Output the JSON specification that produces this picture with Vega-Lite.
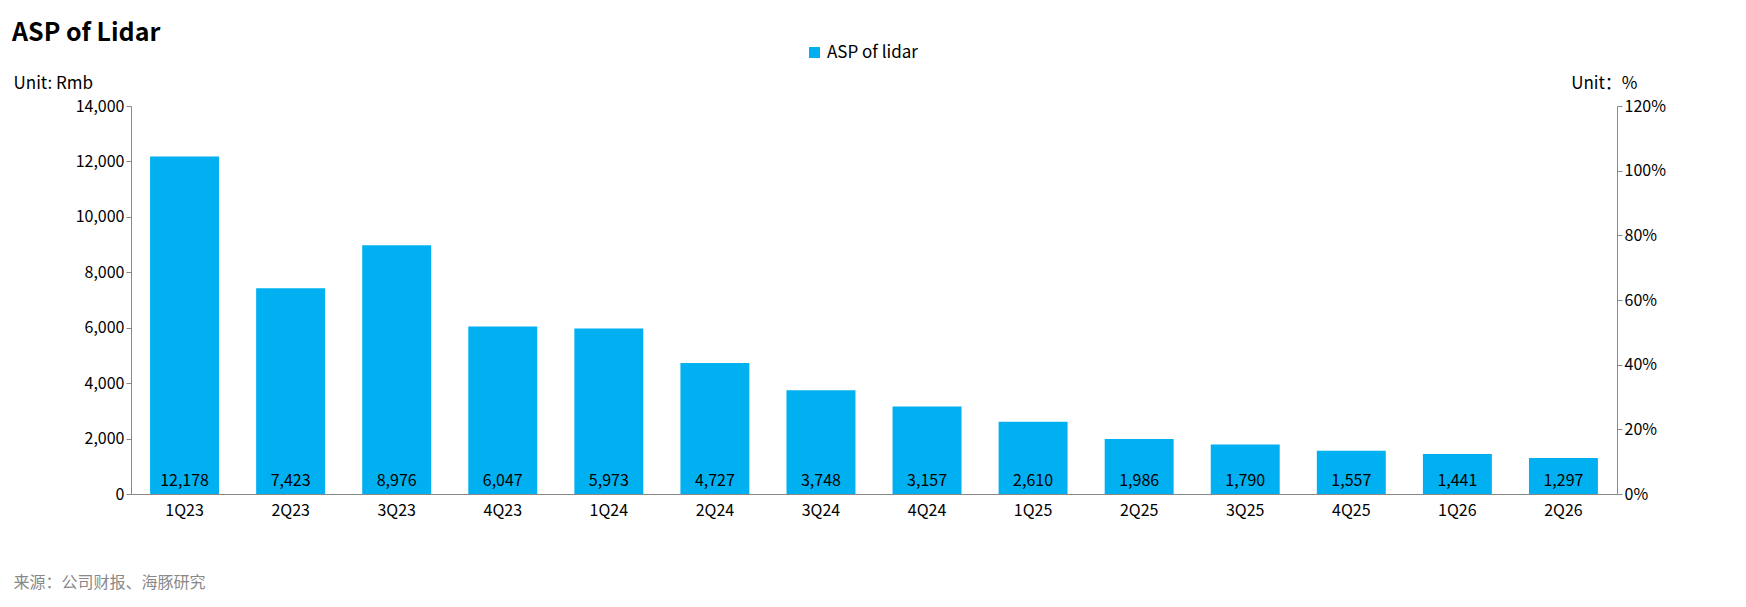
{
  "$schema": "https://vega.github.io/schema/vega-lite/v6.json",
  "autosize": "none",
  "width": 1486,
  "height": 388,
  "padding": {"left": 131, "top": 106, "right": 129, "bottom": 113},
  "background": "white",
  "config": {
    "font": "Noto Sans CJK SC",
    "view": {"stroke": null},
    "axis": {"labelFontSize": 16, "labelColor": "#000", "grid": false, "domainColor": "#888", "tickColor": "#888"}
  },
  "title": {
    "text": "ASP of Lidar",
    "anchor": "start",
    "frame": "group",
    "fontSize": 25,
    "fontWeight": "bold",
    "dx": -119,
    "dy": 6,
    "color": "#000"
  },
  "data": {
    "values": [
      {"q": "1Q23", "asp": 12178},
      {"q": "2Q23", "asp": 7423},
      {"q": "3Q23", "asp": 8976},
      {"q": "4Q23", "asp": 6047},
      {"q": "1Q24", "asp": 5973},
      {"q": "2Q24", "asp": 4727},
      {"q": "3Q24", "asp": 3748},
      {"q": "4Q24", "asp": 3157},
      {"q": "1Q25", "asp": 2610},
      {"q": "2Q25", "asp": 1986},
      {"q": "3Q25", "asp": 1790},
      {"q": "4Q25", "asp": 1557},
      {"q": "1Q26", "asp": 1441},
      {"q": "2Q26", "asp": 1297}
    ]
  },
  "encoding": {
    "x": {
      "field": "q", "type": "ordinal", "sort": null,
      "scale": {"paddingInner": 0.35, "paddingOuter": 0.18},
      "axis": {"labelAngle": 0, "labelPadding": 8, "ticks": false,
        "title": "来源：公司财报、海豚研究", "titleFontSize": 16, "titleFontWeight": "normal",
        "titleColor": "#888", "titleAnchor": "start", "titleAlign": "left", "titleX": -118, "titleY": 80}
    }
  },
  "layer": [
    {
      "mark": {"type": "bar", "color": "#00B0F0"},
      "encoding": {
        "y": {"field": "asp", "type": "quantitative", "scale": {"domain": [0, 14000]},
          "axis": {"format": ",.0f", "values": [0,2000,4000,6000,8000,10000,12000,14000],
            "title": "Unit: Rmb", "titleAngle": 0, "titleFontSize": 17, "titleFontWeight": "normal",
            "titleAlign": "left", "titleX": -118, "titleY": -14, "titleColor": "#000"}},
        "color": {"datum": "ASP of lidar", "type": "nominal",
          "scale": {"range": ["#00B0F0"]},
          "legend": {"orient": "none", "legendX": 675, "legendY": -62, "title": null,
            "symbolType": "square", "symbolSize": 120, "labelFontSize": 17, "labelColor": "#000"}}
      }
    },
    {
      "mark": {"type": "text", "baseline": "bottom", "dy": -5, "fontSize": 16, "color": "#000"},
      "encoding": {
        "y": {"datum": 0, "type": "quantitative", "scale": {"domain": [0, 14000]}, "axis": null},
        "text": {"field": "asp", "type": "quantitative", "format": ","}
      }
    },
    {
      "mark": {"type": "point", "opacity": 0},
      "encoding": {
        "y": {"datum": 0, "type": "quantitative", "scale": {"domain": [0, 1.2]},
          "axis": {"orient": "right", "format": ".0%", "values": [0,0.2,0.4,0.6,0.8,1,1.2],
            "title": "Unit：%", "titleAngle": 0, "titleFontSize": 17, "titleFontWeight": "normal",
            "titleAlign": "right", "titleX": 20, "titleY": -14, "titleColor": "#000"}}
      }
    }
  ],
  "resolve": {"scale": {"y": "independent"}}
}
